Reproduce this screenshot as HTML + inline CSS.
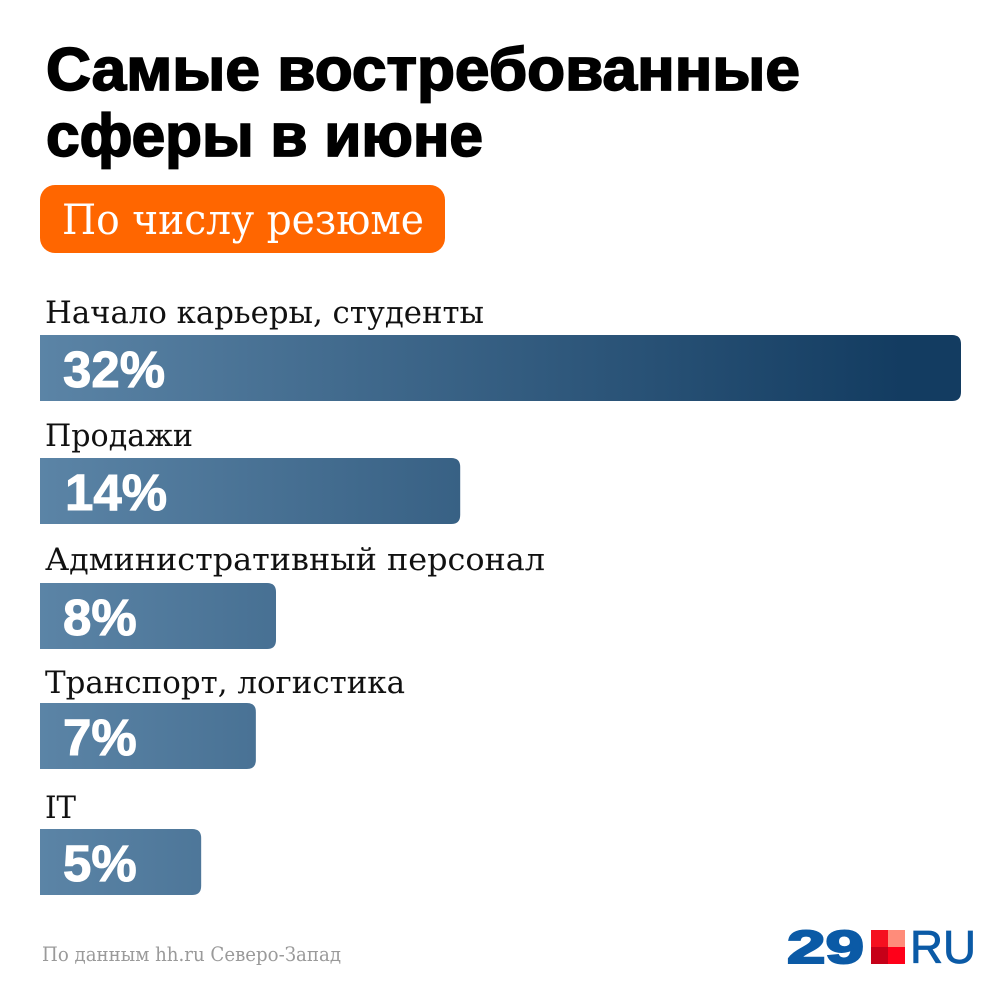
<!DOCTYPE html>
<html lang="ru">
<head>
<meta charset="utf-8">
<title>Самые востребованные сферы в июне</title>
<style>
html,body{margin:0;padding:0;background:#fff;width:1000px;height:1000px;overflow:hidden}
svg{display:block}
.title{font-family:"Liberation Sans",sans-serif;font-weight:700;font-size:60px;fill:#000;stroke:#000;stroke-width:1.7px}
.slab{font-family:"DejaVu Serif","Liberation Serif",serif}
.label{font-size:31px;fill:#111}
.pct{font-family:"Liberation Sans",sans-serif;font-weight:700;font-size:51px;fill:#fff;stroke:#fff;stroke-width:1px}
</style>
</head>
<body>
<svg id="chart" width="1000" height="1000" viewBox="0 0 1000 1000" xmlns="http://www.w3.org/2000/svg">
  <defs>
    <linearGradient id="barGrad" gradientUnits="userSpaceOnUse" x1="40" y1="0" x2="900" y2="0">
      <stop offset="0" stop-color="#5b84a6"/>
      <stop offset="1" stop-color="#133c61"/>
    </linearGradient>
  </defs>
  <rect width="1000" height="1000" fill="#fff"/>
  <text class="title" x="46" y="90" textLength="754" lengthAdjust="spacingAndGlyphs">Самые востребованные</text>
  <text class="title" x="46" y="156" textLength="437" lengthAdjust="spacingAndGlyphs">сферы в июне</text>
  <rect x="40" y="185" width="405" height="68" rx="15" fill="#ff6600"/>
  <text class="slab" x="62" y="234" font-size="42" fill="#fff" textLength="362" lengthAdjust="spacingAndGlyphs">По числу резюме</text>
  <g id="bars"></g>
  <text class="slab" x="42" y="961" font-size="20" fill="#9a9a9a" textLength="299" lengthAdjust="spacingAndGlyphs">По данным hh.ru Северо-Запад</text>
  <g>
    <text x="787" y="963" font-family="'Liberation Sans',sans-serif" font-weight="700" font-size="46" fill="#0b5aa6" stroke="#0b5aa6" stroke-width="2" textLength="77" lengthAdjust="spacingAndGlyphs">29</text>
    <rect x="871" y="930" width="17" height="17" fill="#f5101f"/>
    <rect x="888" y="930" width="17" height="17" fill="#ff8c7a"/>
    <rect x="871" y="947" width="17" height="17" fill="#c60018"/>
    <rect x="888" y="947" width="17" height="17" fill="#ff0019"/>
    <text x="910" y="963" font-family="'Liberation Sans',sans-serif" font-size="46" fill="#0b5aa6" stroke="#0b5aa6" stroke-width="0.8" textLength="66" lengthAdjust="spacingAndGlyphs">RU</text>
  </g>
</svg>
<script>
const categories = ['Начало карьеры, студенты', 'Продажи', 'Административный персонал', 'Транспорт, логистика', 'IT'];
const barValues = [32, 14.6, 8.2, 7.5, 5.6];
const valueLabels = ['32%', '14%', '8%', '7%', '5%'];

const svgNS = 'http://www.w3.org/2000/svg';
const group = document.getElementById('bars');
const barX = 40, barH = 66, maxValue = 32, maxWidth = 921;
const rowTop = [335, 458, 583, 703, 829];
const labelY = [323, 446, 570, 693, 818];
const labelFit = [439, 148, 500, 360, 31];
const valueX = [63, 65, 63, 63, 63];

function xScale(v) {
  return v / maxValue * maxWidth;
}

function barPath(x, y, w, h, r) {
  return 'M' + x + ' ' + y + 'H' + (x + w - r) + 'Q' + (x + w) + ' ' + y + ' ' + (x + w) + ' ' + (y + r) +
    'V' + (y + h - r) + 'Q' + (x + w) + ' ' + (y + h) + ' ' + (x + w - r) + ' ' + (y + h) + 'H' + x + 'Z';
}

categories.forEach(function (name, i) {
  const top = rowTop[i];

  const label = document.createElementNS(svgNS, 'text');
  
  
  label.setAttribute('class', 'slab label');
  label.setAttribute('x', 45);
  label.setAttribute('y', labelY[i]);
  label.setAttribute('textLength', labelFit[i]);
  label.setAttribute('lengthAdjust', 'spacingAndGlyphs');
  label.textContent = name;
  group.appendChild(label);

  const bar = document.createElementNS(svgNS, 'path');
  
  
  bar.setAttribute('d', barPath(barX, top, xScale(barValues[i]), barH, 9));
  bar.setAttribute('fill', 'url(#barGrad)');
  group.appendChild(bar);

  const pct = document.createElementNS(svgNS, 'text');
  
  
  pct.setAttribute('class', 'pct');
  pct.setAttribute('x', valueX[i]);
  pct.setAttribute('y', top + 52);
  pct.textContent = valueLabels[i];
  group.appendChild(pct);
});
</script>
</body>
</html>
